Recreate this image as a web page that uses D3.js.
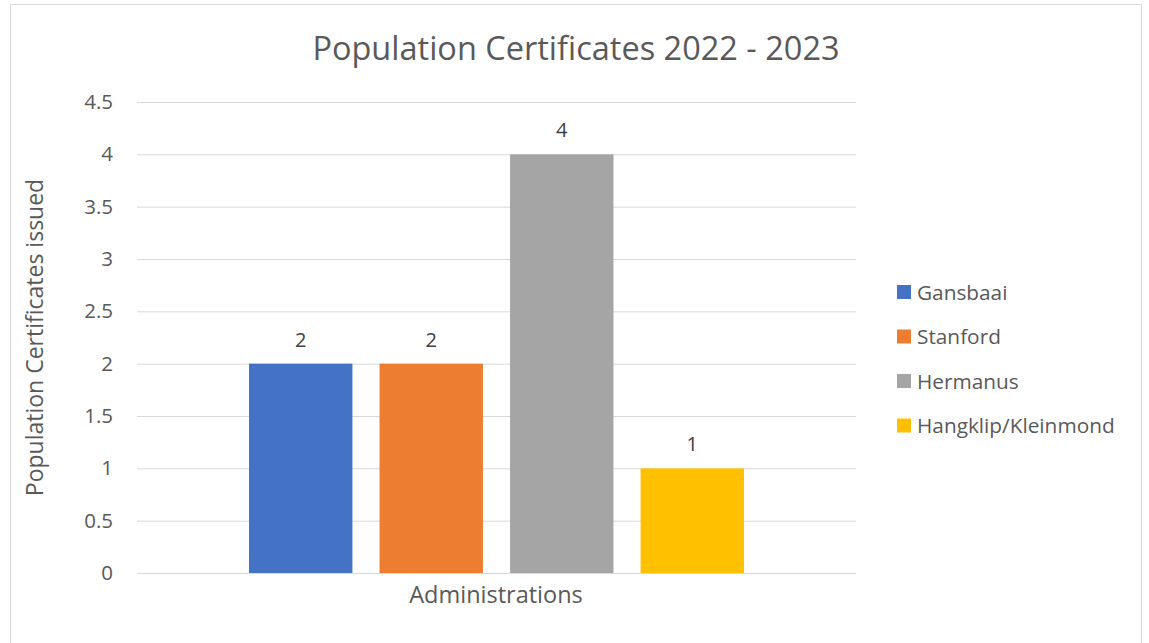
<!DOCTYPE html>
<html><head><meta charset="utf-8">
<script src="https://cdn.jsdelivr.net/npm/d3@7"></script>
<style>body{margin:0;background:#fff;} svg{display:block;font-family:"Open Sans",sans-serif;}</style>
</head><body>
<svg id="c" width="1149" height="643"></svg>
<script>
const categories = ["Administrations"];
const seriesNames = ["Gansbaai","Stanford","Hermanus","Hangklip/Kleinmond"];
const seriesValues = [2,2,4,1];
const seriesColors = ["#4472c4","#ed7d31","#a5a5a5","#ffc000"];
const yTicks = [0,0.5,1,1.5,2,2.5,3,3.5,4,4.5];
const yTickLabels = ["0","0.5","1","1.5","2","2.5","3","3.5","4","4.5"];

(function(){
const svg = d3.select("#c");
svg.append("rect").attr("x",10.5).attr("y",4.5).attr("width",1131).attr("height",650)
  .attr("fill","#fff").attr("stroke","#d9d9d9").attr("stroke-width",1);

const pL=137, pR=856, pT=102, pB=573;
const y = d3.scaleLinear().domain([0,4.5]).range([pB,pT]);
const x0b = d3.scaleBand().domain(categories).range([pL+112,pR-112]);
const x1 = d3.scaleBand().domain(seriesNames).range([0,x0b.bandwidth()]).paddingInner(27/130).paddingOuter(0);

const yAxis = d3.axisLeft(y).tickValues(yTicks).tickFormat((d,i)=>yTickLabels[i]).tickSize(-(pR-pL)).tickPadding(24);
const ga = svg.append("g").attr("transform",`translate(${pL},0)`).call(yAxis);
ga.select(".domain").remove();
ga.selectAll(".tick line").attr("stroke","#d9d9d9").attr("stroke-width",1);
ga.selectAll(".tick text").attr("fill","#595959").style("font-size","20.5px").style("font-family","Open Sans");

const data = seriesNames.map((n,i)=>({name:n,value:seriesValues[i],color:seriesColors[i]}));
const g = svg.append("g").attr("transform",`translate(${x0b(categories[0])},0)`);
g.selectAll("rect").data(data).join("rect")
  .attr("x",d=>x1(d.name)).attr("y",d=>y(d.value))
  .attr("width",x1.bandwidth()).attr("height",d=>pB-y(d.value)).attr("fill",d=>d.color);
g.selectAll("text").data(data).join("text")
  .attr("x",d=>x1(d.name)+x1.bandwidth()/2).attr("y",d=>y(d.value)-17)
  .attr("text-anchor","middle").attr("fill","#404040").style("font-size","20px").text(d=>d.value);

svg.append("line").attr("x1",pL).attr("x2",pR).attr("y1",pB+0.5).attr("y2",pB+0.5).attr("stroke","#d9d9d9");

svg.append("text").attr("x",496).attr("y",603).attr("text-anchor","middle").attr("fill","#595959")
  .style("font-size","23.5px").text("Administrations");
svg.append("text").attr("transform",`translate(43,${(pT+pB)/2}) rotate(-90)`).attr("text-anchor","middle")
  .attr("fill","#595959").style("font-size","23px").text("Population Certificates issued");
svg.append("text").attr("x",576).attr("y",60).attr("text-anchor","middle").attr("fill","#595959")
  .style("font-size","32.5px").text("Population Certificates 2022 - 2023");

const lg = svg.append("g");
data.forEach((d,i)=>{
  const cy = 292 + i*44.5;
  lg.append("rect").attr("x",897).attr("y",cy-7).attr("width",14).attr("height",14).attr("fill",d.color);
  lg.append("text").attr("x",917).attr("y",cy+7.5).attr("fill","#595959").style("font-size","20.8px").text(d.name);
});
})();
</script>
</body></html>
